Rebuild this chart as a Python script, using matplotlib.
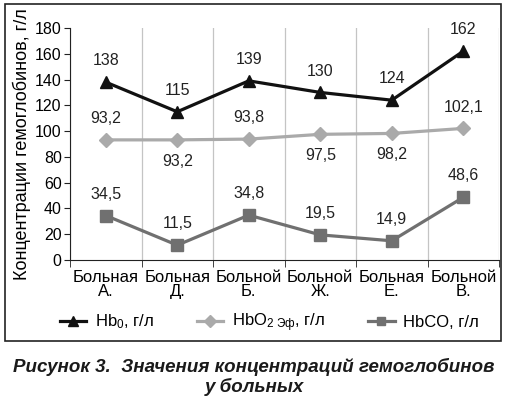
import matplotlib
matplotlib.use('Agg')
import matplotlib.pyplot as plt
from matplotlib.patches import Rectangle

plt.rcParams['font.family'] = ['Liberation Sans', 'DejaVu Sans']
plt.rcParams['mathtext.fontset'] = 'custom'
plt.rcParams['mathtext.rm'] = 'Liberation Sans'
plt.rcParams['mathtext.it'] = 'Liberation Sans:italic'

# данные
patients = ['Больная\nА.', 'Больная\nД.', 'Больной\nБ.', 'Больной\nЖ.', 'Больная\nЕ.', 'Больной\nВ.']
hb0 = [138, 115, 139, 130, 124, 162]
hbo2 = [93.2, 93.2, 93.8, 97.5, 98.2, 102.1]
hbco = [34.5, 11.5, 34.8, 19.5, 14.9, 48.6]
hbo2_below = [False, True, False, True, True, False]

fig = plt.figure(figsize=(5.08, 3.99), dpi=100)
ax = fig.add_axes([70/508, 1 - 260/399, 429/508, 232/399])

x = list(range(len(patients)))
ax.plot(x, hb0, color='#111111', lw=2.3, marker='^', ms=9, label=r'Hb$_0$, г/л', zorder=4)
ax.plot(x, hbo2, color='#aaaaaa', lw=2.3, marker='D', ms=7.5, label=r'HbO$_{2\ \mathrm{Эф}}$, г/л', zorder=3)
ax.plot(x, hbco, color='#707070', lw=2.3, marker='s', ms=8.5, label='HbCO, г/л', zorder=3)

def fmt(v):
    return ('%g' % v).replace('.', ',')

for i in x:
    ax.annotate(fmt(hb0[i]), (i, hb0[i]), xytext=(0, 10), textcoords='offset points',
                ha='center', va='bottom', fontsize=11.5, color='#222222')
    off = -10 if hbo2_below[i] else 10
    ax.annotate(fmt(hbo2[i]), (i, hbo2[i]), xytext=(0, off), textcoords='offset points',
                ha='center', va='top' if hbo2_below[i] else 'bottom', fontsize=11.5, color='#222222')
    ax.annotate(fmt(hbco[i]), (i, hbco[i]), xytext=(0, 10), textcoords='offset points',
                ha='center', va='bottom', fontsize=11.5, color='#222222')

ax.set_xlim(-0.5, len(patients) - 0.5)
ax.set_ylim(0, 180)
ax.set_yticks(range(0, 181, 20))
ax.set_xticks(x)
ax.set_xticklabels(patients, fontsize=12, linespacing=0.9)
ax.set_xticks([i + 0.5 for i in range(-1, len(patients))], minor=True)
ax.tick_params(axis='x', which='major', length=0, pad=7)
ax.tick_params(axis='x', which='minor', length=5, direction='out', color='#222222')
ax.tick_params(axis='y', labelsize=11.5, length=4, direction='out', color='#222222', pad=2)
ax.grid(True, axis='x', which='minor', color='#c4c4c4', lw=0.9)
for s in ['top', 'right']:
    ax.spines[s].set_visible(False)
ax.spines['left'].set_color('#222222')
ax.spines['bottom'].set_color('#222222')
ax.set_ylabel('Концентрации гемоглобинов, г/л', fontsize=13, labelpad=3)

fig.legend(loc='center', bbox_to_anchor=(0.53, 1 - 323/399), ncol=3, frameon=False,
           fontsize=12, handlelength=1.6, handletextpad=0.5, columnspacing=2.6, markerscale=0.75)

fig.patches.append(Rectangle((5/508, 1 - 341/399), 496/508, 337/399, transform=fig.transFigure,
                             fill=False, edgecolor='#222222', lw=1.2))

fig.text(0.5, 1 - 367/399, 'Рисунок 3.  Значения концентраций гемоглобинов', ha='center', va='center',
         fontsize=13.5, fontweight='bold', fontstyle='italic', color='#1a1a1a')
fig.text(0.5, 1 - 387/399, 'у больных', ha='center', va='center',
         fontsize=13.5, fontweight='bold', fontstyle='italic', color='#1a1a1a')

fig.savefig('out.png', dpi=100)
